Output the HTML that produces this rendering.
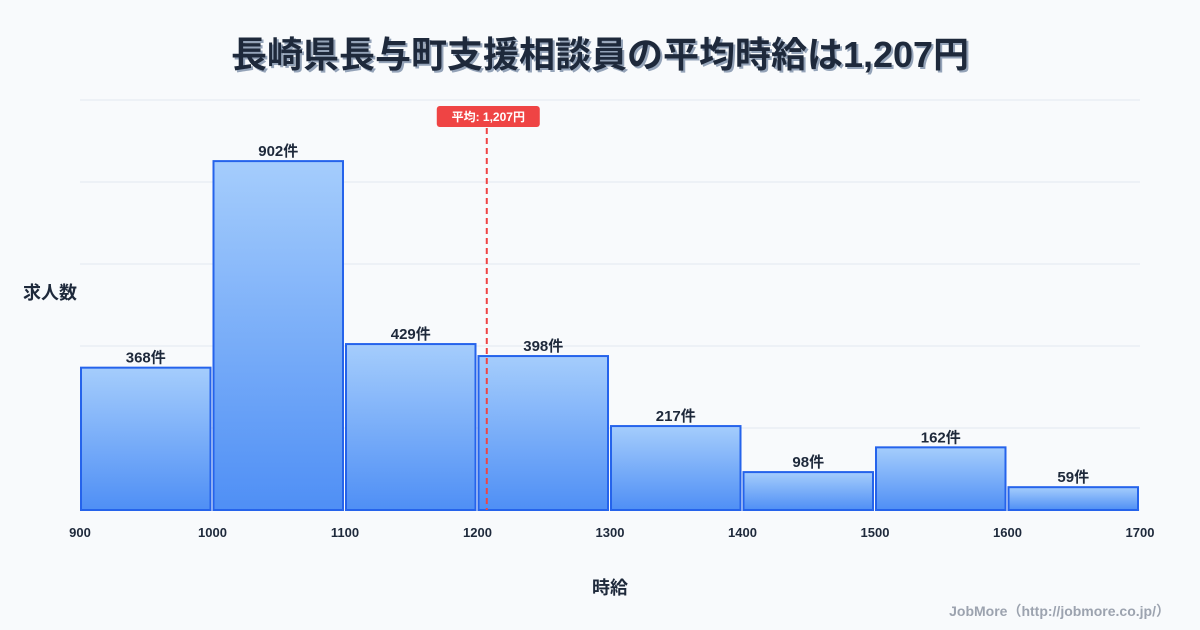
<!DOCTYPE html>
<html><head><meta charset="utf-8"><style>
body{margin:0;background:#f8fafc;}
svg{display:block;font-family:"Liberation Sans","Noto Sans CJK JP",sans-serif;}
</style></head><body>
<svg id="c" width="1200" height="630" viewBox="0 0 1200 630">
<defs><linearGradient id="g" x1="0" y1="0" x2="0" y2="1"><stop offset="0" stop-color="#a5cdfc"/><stop offset="1" stop-color="#4f8ff5"/></linearGradient></defs>
<text x="600" y="67" text-anchor="middle" font-size="36" font-weight="bold" fill="#94a3b8" transform="translate(2,2)">長崎県長与町支援相談員の平均時給は1,207円</text>
<text x="600" y="67" text-anchor="middle" font-size="36" font-weight="bold" fill="#1e293b">長崎県長与町支援相談員の平均時給は1,207円</text>
<g id="grid"></g><g id="bars"></g><g id="xt"></g>
<text x="50" y="299" text-anchor="middle" font-size="18" font-weight="bold" fill="#1e293b">求人数</text>
<text x="610" y="594" text-anchor="middle" font-size="18" font-weight="bold" fill="#1e293b">時給</text>
<text x="1170" y="616" text-anchor="end" font-size="14" font-weight="bold" fill="#9ca3af">JobMore（http://jobmore.co.jp/）</text>
<g id="mean"></g>
</svg>
<script>
const binStarts=[900,1000,1100,1200,1300,1400,1500,1600];
const counts=[368,902,429,398,217,98,162,59];
const xTicks=[900,1000,1100,1200,1300,1400,1500,1600,1700];
const meanValue=1207;
const yMax=1060;
const NS="http://www.w3.org/2000/svg";
const X=v=>80+(v-900)*1060/800, Y=v=>510-v*410/yMax;
function el(t,a,p,txt){const e=document.createElementNS(NS,t);for(const k in a)e.setAttribute(k,a[k]);if(txt!=null)e.textContent=txt;document.getElementById(p).appendChild(e);return e;}
for(let i=0;i<=5;i++){const e=el('line',{x1:80,x2:1140,y1:Y(yMax*i/5),y2:Y(yMax*i/5),stroke:'#e2e8f0','stroke-width':1},'grid');

}
binStarts.forEach((b,i)=>{const x0=X(b)+1,x1=X(b+100)-2;
const r=el('rect',{x:x0,y:Y(counts[i]),width:x1-x0,height:510-Y(counts[i]),fill:'url(#g)',stroke:'#2563eb','stroke-width':2},'bars');


const t=el('text',{x:(x0+x1)/2,y:Y(counts[i])-5,'text-anchor':'middle','font-size':15,'font-weight':'bold',fill:'#1e293b'},'bars',counts[i]+'件');

});
xTicks.forEach(v=>{const t=el('text',{x:X(v),y:537,'text-anchor':'middle','font-size':13,'font-weight':'bold',fill:'#1e293b'},'xt',v);

});
const mx=X(meanValue);
const ml=el('line',{x1:mx,x2:mx,y1:128,y2:510,stroke:'#ef4444','stroke-width':2,'stroke-dasharray':'6,4'},'mean');


const mb=el('rect',{x:mx-50,y:106,width:103,height:21,rx:3,fill:'#ef4444'},'mean');


const mt=el('text',{x:mx+1.5,y:121,'text-anchor':'middle','font-size':12,'font-weight':'bold',fill:'#fff'},'mean','平均: '+meanValue.toLocaleString('en-US')+'円');


</script>
</body></html>
